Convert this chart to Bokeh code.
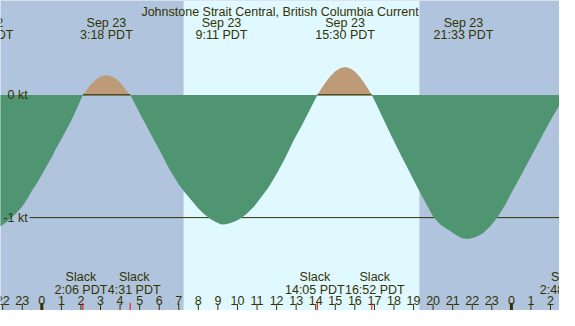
import numpy as np
from bokeh.plotting import figure
from bokeh.models import ColumnDataSource, BoxAnnotation
from bokeh.core.properties import value
from bokeh.embed import file_html
from bokeh.resources import INLINE

# ---------------- data (hours after 00:00 PDT Sep 23, knots) ----------------
time_h = [-2.40, -2.20, -2.00, -1.75, -1.50, -1.25, -1.00, -0.75, -0.50, -0.25,
          0.00, 0.25, 0.50, 0.75, 1.00, 1.25, 1.50, 1.75, 2.10,
          2.30, 2.50, 2.75, 3.00, 3.30, 3.60, 3.85, 4.10, 4.30, 4.517,
          4.75, 5.00, 5.34, 5.67, 6.00, 6.50, 7.00, 7.33, 7.66, 8.00,
          8.32, 8.60, 8.82, 9.00, 9.18, 9.40, 9.65, 9.95, 10.23, 10.50,
          10.85, 11.22, 11.60, 12.05, 12.45, 12.88, 13.30, 13.70, 14.083,
          14.30, 14.50, 14.75, 15.00, 15.25, 15.50, 15.75, 16.00, 16.25, 16.50, 16.70, 16.867,
          17.10, 17.50, 17.90, 18.33, 18.75, 19.16, 19.60, 20.03, 20.40, 20.81,
          21.15, 21.48, 21.80, 22.15, 22.53, 22.90, 23.28, 23.65, 24.02, 24.45,
          24.85, 25.25, 25.68, 26.10, 26.46, 26.80]
speed_kt = [-1.090, -1.078, -1.060, -1.030, -0.995, -0.955, -0.910, -0.850, -0.780, -0.720,
            -0.650, -0.580, -0.510, -0.430, -0.360, -0.285, -0.210, -0.125, 0.000,
            0.042, 0.083, 0.123, 0.150, 0.163, 0.150, 0.123, 0.082, 0.040, 0.000,
            -0.070, -0.150, -0.250, -0.350, -0.445, -0.600, -0.730, -0.800, -0.860, -0.925,
            -0.975, -1.010, -1.030, -1.045, -1.057, -1.055, -1.045, -1.025, -1.000, -0.965,
            -0.910, -0.833, -0.750, -0.630, -0.510, -0.367, -0.245, -0.120, 0.000,
            0.054, 0.101, 0.153, 0.193, 0.218, 0.227, 0.218, 0.190, 0.148, 0.093, 0.043, 0.000,
            -0.075, -0.210, -0.345, -0.484, -0.615, -0.742, -0.875, -1.000, -1.060, -1.104,
            -1.140, -1.168, -1.174, -1.160, -1.130, -1.075, -1.000, -0.905, -0.794, -0.670,
            -0.548, -0.430, -0.302, -0.180, -0.083, 0.000]

sunrise_h = 7.245
sunset_h = 19.30

extreme_time_h = [-2.98, 3.30, 9.183, 15.50, 21.55]
extreme_date = ["Sep 22", "Sep 23", "Sep 23", "Sep 23", "Sep 23"]
extreme_label = ["21:01 PDT", "3:18 PDT", "9:11 PDT", "15:30 PDT", "21:33 PDT"]

slack_time_h = [2.10, 4.517, 14.083, 16.867, 26.80]
slack_label = ["2:06 PDT", "4:31 PDT", "14:05 PDT", "16:52 PDT", "2:48 PDT"]

hour_ticks = list(range(-2, 27))
hour_labels = ["22", "23", "0", "1", "2", "3", "4", "5", "6", "7", "8", "9",
               "10", "11", "12", "13", "14", "15", "16", "17", "18", "19", "20",
               "21", "22", "23", "0", "1", "2"]

level_kt = [0, -1]
level_labels = ["0 kt", "-1 kt"]

title = "Johnstone Strait Central, British Columbia Current"

# ---------------- layout (reference pixel geometry) ----------------
REF_W, REF_H = 575, 326
X0_PX, PX_PER_H = 42.5, 20.125
Y0_PX, PX_PER_KT = 99.3, 129.0
W, H = 559, 310


def hx(px):
    return (px - X0_PX) / PX_PER_H


def ky(py):
    return (Y0_PX - py) / PX_PER_KT


NIGHT = "#B0C4DE"
DAY = "#E0F8FF"
EBB = "#509572"
FLOOD = "#BD9B78"
FG = "#333300"
FONT = value("Liberation Sans")
FS = "12.5px"

p = figure(width=W, height=H, x_range=(hx(0), hx(REF_W)), y_range=(ky(REF_H), ky(0)),
           output_backend="svg", toolbar_location=None, x_axis_type=None, y_axis_type=None,
           min_border=0, outline_line_color=None, background_fill_color=NIGHT,
           border_fill_color=NIGHT)
p.grid.visible = False

p.add_layout(BoxAnnotation(left=sunrise_h, right=sunset_h, fill_color=DAY, fill_alpha=1.0,
                           line_color=None, level="underlay"))

t = np.array(time_h)
v = np.array(speed_kt)

# -1 kt reference line (behind the ebb fill)
p.segment(x0=[hx(30)], y0=[level_kt[1]], x1=[hx(REF_W)], y1=[level_kt[1]], line_color=FG, line_width=1)
# flood fill and its zero base line
p.varea(x=t, y1=np.zeros_like(v), y2=np.maximum(v, 0), fill_color=FLOOD)
flood_start = [slack_time_h[0], slack_time_h[2]]
flood_end = [slack_time_h[1], slack_time_h[3]]
p.segment(x0=flood_start, y0=[0, 0], x1=flood_end, y1=[0, 0], line_color=FG, line_width=1.3)
# ebb fill
p.varea(x=t, y1=np.minimum(v, 0), y2=np.zeros_like(v), fill_color=EBB)

# level labels
p.text(x=[hx(28)] * 2, y=level_kt, text=level_labels, text_align="right", text_baseline="middle",
       text_font=FONT, text_font_size=FS, text_color=FG)

# title
p.text(x=[hx(REF_W / 2)], y=[ky(12)], text=[title], text_align="center", text_baseline="alphabetic",
       text_font=FONT, text_font_size=FS, text_color=FG)

# extreme (max/min) labels at top
p.text(x=extreme_time_h, y=[ky(24)] * len(extreme_time_h), text=extreme_date, text_align="center",
       text_baseline="alphabetic", text_font=FONT, text_font_size=FS, text_color=FG)
p.text(x=extreme_time_h, y=[ky(36)] * len(extreme_time_h), text=extreme_label, text_align="center",
       text_baseline="alphabetic", text_font=FONT, text_font_size=FS, text_color=FG)

# slack labels at bottom (nudged apart where they would collide)
slack_nudge_px = [-2, 4, -2.5, 3, 0]
ssrc = ColumnDataSource(dict(x=slack_time_h, y1=[ky(291)] * 5, y2=[ky(304)] * 5,
                             s=["Slack"] * 5, lab=slack_label, dx=slack_nudge_px))
p.text(x="x", y="y1", text="s", x_offset="dx", source=ssrc, text_align="center",
       text_baseline="alphabetic", text_font=FONT, text_font_size=FS, text_color=FG)
p.text(x="x", y="y2", text="lab", x_offset="dx", source=ssrc, text_align="center",
       text_baseline="alphabetic", text_font=FONT, text_font_size=FS, text_color=FG)

# hour ticks and labels
p.text(x=hour_ticks, y=[ky(316)] * len(hour_ticks), text=hour_labels, text_align="center",
       text_baseline="alphabetic", text_font=FONT, text_font_size=FS, text_color=FG)
p.segment(x0=hour_ticks, y0=[ky(319)] * len(hour_ticks), x1=hour_ticks, y1=[ky(REF_H)] * len(hour_ticks),
          line_color=FG, line_width=1)
mid = [h for h in hour_ticks if h % 24 == 0]
p.segment(x0=mid, y0=[ky(318)] * len(mid), x1=mid, y1=[ky(REF_H)] * len(mid), line_color=FG, line_width=3)
p.segment(x0=slack_time_h, y0=[ky(318)] * 5, x1=slack_time_h, y1=[ky(REF_H)] * 5,
          line_color="#FF0000", line_width=1)

open("out.html", "w").write(file_html(p, INLINE))
